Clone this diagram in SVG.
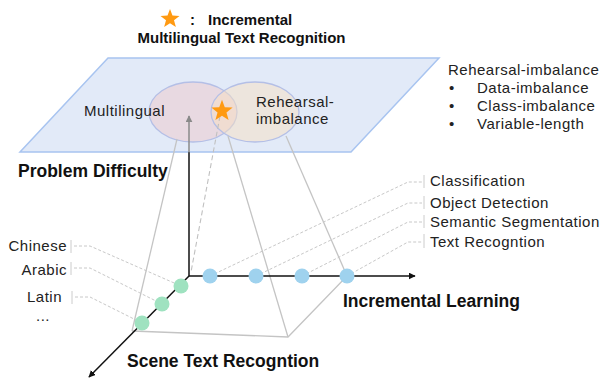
<svg xmlns="http://www.w3.org/2000/svg" width="609" height="378" viewBox="0 0 609 378">
<defs>
<style>
.lbl{font-family:"Liberation Sans",Arial,sans-serif;font-size:15px;letter-spacing:0.5px;fill:#222}
.bold{font-family:"Liberation Sans",Arial,sans-serif;font-size:17.5px;font-weight:bold;fill:#111}
.title{font-family:"Liberation Sans",Arial,sans-serif;font-size:15px;font-weight:bold;fill:#111}
.axis{stroke:#111;stroke-width:1.5;fill:none}
.edge{stroke:#c4c4c4;stroke-width:1.3;fill:none}
.lead{stroke:#c8c8c8;stroke-width:1;stroke-dasharray:3 2;fill:none}
.tick{stroke:#cccccc;stroke-width:1;fill:none}
.blue{fill:#9fd2ee}
.green{fill:#9fe2c0}
.star{fill:#ff9a12}
</style>
<marker id="arr" viewBox="0 0 10 10" refX="9" refY="5" markerWidth="7" markerHeight="7" markerUnits="userSpaceOnUse" orient="auto">
<path d="M0,0 L10,5 L0,10 z" fill="#111"/>
</marker>
<marker id="arrg" viewBox="0 0 10 10" refX="9" refY="5" markerWidth="7" markerHeight="7" markerUnits="userSpaceOnUse" orient="auto">
<path d="M0,0 L10,5 L0,10 z" fill="#8a8a8a"/>
</marker>
<path id="starShape" d="M0,-10 L2.47,-3.4 L9.51,-3.09 L3.99,1.3 L5.88,8.09 L0,4.2 L-5.88,8.09 L-3.99,1.3 L-9.51,-3.09 L-2.47,-3.4 Z"/>
</defs>
<rect width="609" height="378" fill="#ffffff"/>

<g id="title">
<use href="#starShape" class="star" transform="translate(170,19)"/>
<text class="title" x="190" y="25">:</text>
<text class="title" x="208" y="25">Incremental</text>
<text class="title" x="241.5" y="43" text-anchor="middle">Multilingual Text Recognition</text>
</g>

<g id="plane">
<polygon points="108,58 439,58 351,152 20,152" fill="#e2eaf8" stroke="#a8c4f0" stroke-width="1.5"/>
</g>

<g id="venn">
<ellipse id="multilingual" cx="193" cy="112" rx="44" ry="30" fill="#eec8ca" fill-opacity="0.5" stroke="#b4bfe6" stroke-width="1.3"/>
<ellipse id="rehearsal" cx="255" cy="112" rx="44" ry="30" fill="#f8e0c2" fill-opacity="0.5" stroke="#b4bfe6" stroke-width="1.3"/>
<text class="lbl" x="84" y="116">Multilingual</text>
<text class="lbl" x="256" y="107">Rehearsal-</text>
<text class="lbl" x="256" y="124">imbalance</text>
</g>

<g id="connectors">
<line class="edge" x1="177" y1="139" x2="132" y2="331"/>
<line class="edge" x1="228" y1="136" x2="288" y2="337"/>
<line class="edge" x1="286" y1="136" x2="347" y2="276"/>
<polyline class="edge" points="132,331 288,337 347,276"/>
<line x1="220" y1="116" x2="191" y2="272" stroke="#c0c0c0" stroke-width="1.1" stroke-dasharray="5 3"/>
<line class="axis" x1="189" y1="276" x2="189" y2="152"/>
<line x1="189" y1="152.5" x2="189" y2="116" stroke="#8a8a8a" stroke-width="1.5" marker-end="url(#arrg)"/>
<line class="axis" x1="189" y1="276" x2="415" y2="276" marker-end="url(#arr)"/>
<line class="axis" x1="189" y1="276" x2="89" y2="377" marker-end="url(#arr)"/>
<polyline class="lead" points="210,276 408,182 422,182"/>
<polyline class="lead" points="256,276 408,203 422,203"/>
<polyline class="lead" points="302,276 408,222 422,222"/>
<polyline class="lead" points="347,276 408,242 422,242"/>
<line class="tick" x1="424" y1="175" x2="424" y2="188"/>
<line class="tick" x1="424" y1="196" x2="424" y2="209"/>
<line class="tick" x1="424" y1="215" x2="424" y2="228"/>
<line class="tick" x1="424" y1="234" x2="424" y2="248"/>
<polyline class="lead" points="74,246 90,246 181,286"/>
<polyline class="lead" points="74,268 90,268 162,304"/>
<polyline class="lead" points="75,297 90,297 142,323"/>
<line class="tick" x1="71" y1="240" x2="71" y2="253"/>
<line class="tick" x1="71" y1="262" x2="71" y2="275"/>
<line class="tick" x1="72" y1="291" x2="72" y2="304"/>
</g>

<g id="star-node">
<use href="#starShape" class="star" transform="translate(222,111) scale(1.12)"/>
</g>

<g id="task-dots">
<circle class="blue" cx="210" cy="276" r="7.5"/>
<circle class="blue" cx="256" cy="276" r="7.5"/>
<circle class="blue" cx="302" cy="276" r="7.5"/>
<circle class="blue" cx="347" cy="276" r="7.5"/>
</g>
<g id="lang-dots">
<circle class="green" cx="181" cy="286" r="7.5"/>
<circle class="green" cx="162" cy="304" r="7.5"/>
<circle class="green" cx="142" cy="323" r="7.5"/>
</g>

<g id="task-labels">
<text class="lbl" x="430" y="186">Classification</text>
<text class="lbl" x="430" y="208">Object Detection</text>
<text class="lbl" x="430" y="227">Semantic Segmentation</text>
<text class="lbl" x="430" y="247">Text Recogntion</text>
</g>

<g id="lang-labels">
<text class="lbl" x="67" y="251" text-anchor="end">Chinese</text>
<text class="lbl" x="67" y="275" text-anchor="end">Arabic</text>
<text class="lbl" x="62" y="302" text-anchor="end">Latin</text>
<text class="lbl" x="36" y="321">...</text>
</g>

<g id="axis-labels">
<text class="bold" x="18" y="177">Problem Difficulty</text>
<text class="bold" x="343" y="307">Incremental Learning</text>
<text class="bold" x="127" y="367">Scene Text Recogntion</text>
</g>

<g id="legend">
<text class="lbl" x="448" y="75">Rehearsal-imbalance</text>
<text class="lbl" x="449" y="93">•</text>
<text class="lbl" x="477" y="93">Data-imbalance</text>
<text class="lbl" x="449" y="111">•</text>
<text class="lbl" x="477" y="111">Class-imbalance</text>
<text class="lbl" x="449" y="129">•</text>
<text class="lbl" x="477" y="129">Variable-length</text>
</g>
</svg>
